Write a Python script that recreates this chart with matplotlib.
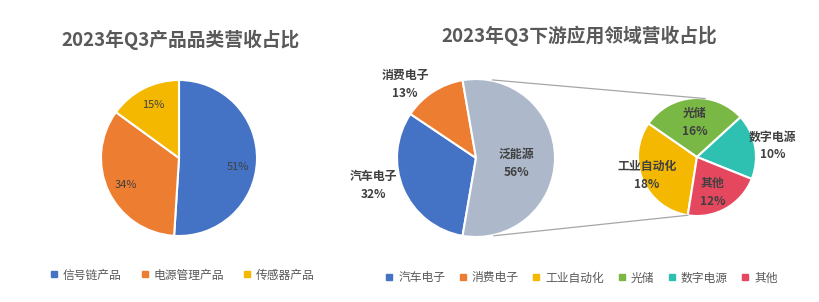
import numpy as np
import matplotlib.pyplot as plt
from matplotlib.lines import Line2D

plt.rcParams['font.family'] = ['Noto Sans CJK SC', 'DejaVu Sans']

# left chart: product categories
cat_labels = ['信号链产品', '电源管理产品', '传感器产品']
cat_values = [51, 34, 15]
cat_colors = ['#4472C4', '#ED7D31', '#F4B800']

# right chart: downstream applications (main pie)
app_labels = ['汽车电子', '消费电子', '泛能源']
app_values = [32, 13, 56]
app_colors = ['#4472C4', '#ED7D31', '#ADB9CA']

# right chart: breakdown of 泛能源 (secondary pie)
sub_labels = ['工业自动化', '光储', '数字电源', '其他']
sub_values = [18, 16, 10, 12]
sub_colors = ['#F4B800', '#7AB845', '#2EC1B2', '#E5485E']

W, H = 819, 302
fig = plt.figure(figsize=(W / 100, H / 100), dpi=100)
ax = fig.add_axes([0, 0, 1, 1])

txt = '#404040'
grey = '#595959'
wp = dict(edgecolor='white', linewidth=1.5)

# --- left pie
c1, r1 = (179, H - 158), 78
w1, _ = ax.pie(cat_values, colors=cat_colors, startangle=90, counterclock=False,
               center=c1, radius=r1, wedgeprops=wp)

# --- main pie of the right chart, 泛能源 slice centred on the right
share = app_values[2] / sum(app_values)
c2, r2 = (476, H - 158), 79
w2, _ = ax.pie(app_values, colors=app_colors, startangle=-180 * share,
               counterclock=False, center=c2, radius=r2, wedgeprops=wp)

# --- secondary pie
c3, r3 = (697, H - 157), 59
w3, _ = ax.pie(sub_values, colors=sub_colors, startangle=-99, counterclock=False,
               center=c3, radius=r3, wedgeprops=wp)


def put_labels(wedges, texts, center, r, dists, shifts, **kw):
    for w, t, d, s in zip(wedges, texts, dists, shifts):
        a = np.deg2rad((w.theta1 + w.theta2) / 2 + s)
        x = center[0] + d * r * np.cos(a)
        y = center[1] + d * r * np.sin(a)
        ax.text(x, y, t, ha='center', va='center', color=txt, **kw)


put_labels(w1, [f'{v}%' for v in cat_values], c1, r1, [0.77, 0.76, 0.76], [-7, 2, -1],
           fontsize=8)
bold = dict(fontsize=8.6, fontweight='bold', linespacing=1.5)
put_labels(w2, [f'{l}\n{v}%' for l, v in zip(app_labels, app_values)], c2, r2,
           [1.35, 1.29, 0.52], [-8, 11, -7], **bold)
put_labels(w3, [f'{l}\n{v}%' for l, v in zip(sub_labels, sub_values)], c3, r3,
           [0.9, 0.59, 1.3, 0.66], [-3, 0, -2, -6], **bold)

# connector lines between the two pies
for a_big, a_small in [(78, 82), (-77, -99)]:
    p = np.deg2rad(a_big)
    q = np.deg2rad(a_small)
    ax.plot([c2[0] + 1.01 * r2 * np.cos(p), c3[0] + r3 * np.cos(q)],
            [c2[1] + 1.01 * r2 * np.sin(p), c3[1] + r3 * np.sin(q)],
            color='#A6A6A6', lw=0.9)

# titles
ax.text(181, H - 40, '2023年Q3产品品类营收占比', ha='center', va='center',
        fontsize=13.5, fontweight='bold', color=grey)
ax.text(579, H - 36, '2023年Q3下游应用领域营收占比', ha='center', va='center',
        fontsize=13.5, fontweight='bold', color=grey)

# legends
def handles(colors):
    return [Line2D([], [], ls='', marker='s', markersize=3.8, color=c) for c in colors]

leg_kw = dict(frameon=False, handlelength=0.5, handletextpad=0.5,
              fontsize=8.5, labelcolor=grey, borderaxespad=0)
leg1 = ax.legend(handles(cat_colors), cat_labels, ncol=3, loc='center',
                 bbox_to_anchor=(183 / W, 1 - 275 / H), columnspacing=1.7, **leg_kw)
ax.add_artist(leg1)
ax.legend(handles(app_colors[:2] + sub_colors), app_labels[:2] + sub_labels, ncol=6,
          loc='center', bbox_to_anchor=(582 / W, 1 - 278 / H), columnspacing=1.25, **leg_kw)

ax.set_xlim(0, W)
ax.set_ylim(0, H)
ax.set_aspect('auto')
ax.axis('off')

fig.savefig('out.png', dpi=100)
